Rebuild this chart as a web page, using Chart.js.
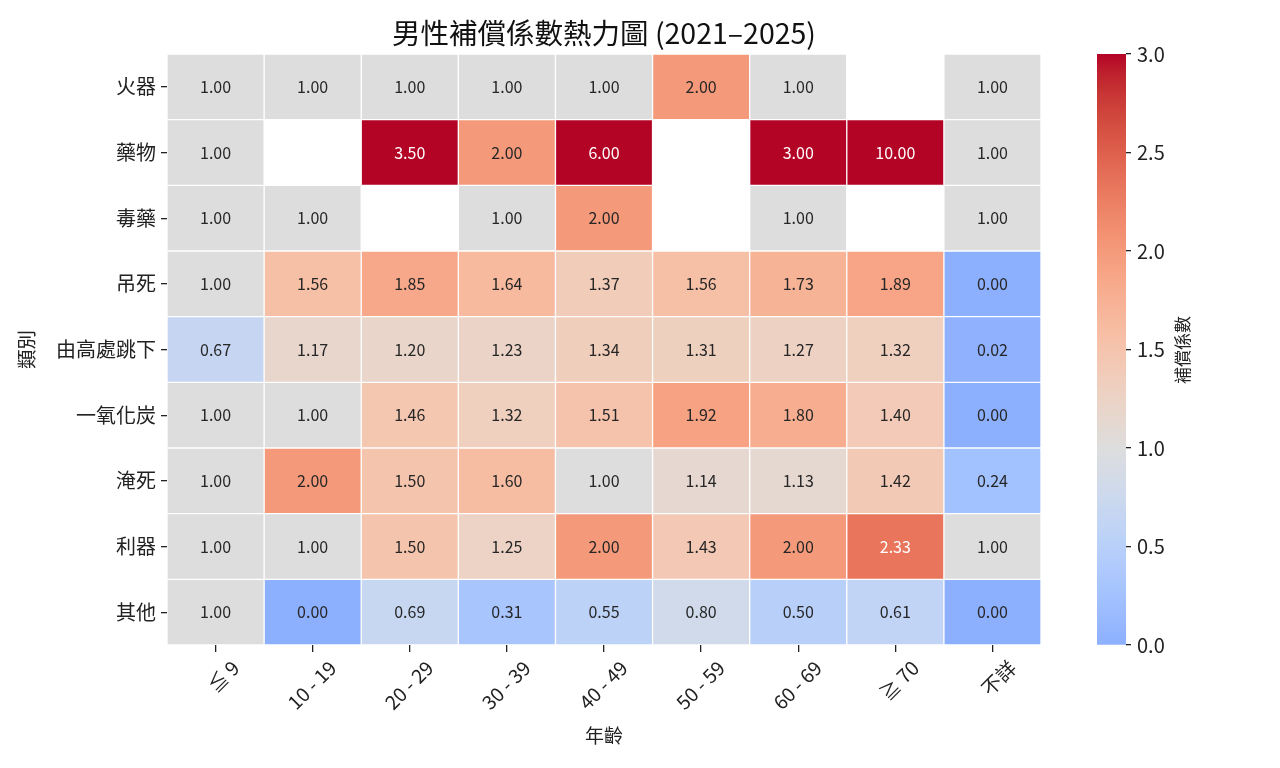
<!DOCTYPE html>
<html>
<head>
<meta charset="utf-8">
<script src="https://cdn.jsdelivr.net/npm/chart.js@4"></script>
<style>
  html, body { margin: 0; padding: 0; background: #fff; }
  #main { position: absolute; left: 0; top: 0; width: 1060px; height: 768px; }
  #bar { position: absolute; left: 1060px; top: 0; width: 220px; height: 768px; }
</style>
</head>
<body>
<div id="main"><canvas id="heatmap"></canvas></div>
<div id="bar"><canvas id="colorbar"></canvas></div>
<script>
const ages = ["≦ 9", "10 - 19", "20 - 29", "30 - 39", "40 - 49", "50 - 59", "60 - 69", "≧ 70", "不詳"];
const categories = ["火器", "藥物", "毒藥", "吊死", "由高處跳下", "一氧化炭", "淹死", "利器", "其他"];

// one row per category, one value per age group (null = no data)
const firearm  = [1.00, 1.00, 1.00, 1.00, 1.00, 2.00, 1.00, null, 1.00];
const drugs    = [1.00, null, 3.50, 2.00, 6.00, null, 3.00, 10.00, 1.00];
const poison   = [1.00, 1.00, null, 1.00, 2.00, null, 1.00, null, 1.00];
const hanging  = [1.00, 1.56, 1.85, 1.64, 1.37, 1.56, 1.73, 1.89, 0.00];
const jumping  = [0.67, 1.17, 1.20, 1.23, 1.34, 1.31, 1.27, 1.32, 0.02];
const charcoal = [1.00, 1.00, 1.46, 1.32, 1.51, 1.92, 1.80, 1.40, 0.00];
const drowning = [1.00, 2.00, 1.50, 1.60, 1.00, 1.14, 1.13, 1.42, 0.24];
const sharp    = [1.00, 1.00, 1.50, 1.25, 2.00, 1.43, 2.00, 2.33, 1.00];
const other    = [1.00, 0.00, 0.69, 0.31, 0.55, 0.80, 0.50, 0.61, 0.00];
const values = [firearm, drugs, poison, hanging, jumping, charcoal, drowning, sharp, other];

const colorbarTicks = [0, 0.5, 1, 1.5, 2, 2.5, 3];

const FONT = "'Noto Sans CJK TC', 'Noto Sans', sans-serif";
const VMIN = 0, VMAX = 3, CENTER = 1;
const TICK = "#222";

// coolwarm colormap samples
const coolwarm = [
  [59,76,192],[68,90,204],[77,104,215],[87,117,225],[98,130,234],[108,142,241],
  [119,154,247],[130,165,251],[141,176,254],[152,185,255],[163,194,255],[174,201,253],
  [184,208,249],[194,213,244],[204,217,238],[213,219,230],[221,221,221],[229,216,209],
  [236,211,197],[241,204,185],[245,196,173],[247,187,160],[247,177,148],[247,166,135],
  [244,154,123],[241,141,111],[236,127,99],[229,112,88],[222,96,77],[213,80,66],
  [203,62,56],[192,40,47],[180,4,38]
];

function cmap(t) {
  t = Math.max(0, Math.min(1, t));
  const p = t * (coolwarm.length - 1);
  const i = Math.min(Math.floor(p), coolwarm.length - 2);
  const f = p - i;
  const a = coolwarm[i], b = coolwarm[i + 1];
  return a.map((c, k) => Math.round(c + (b[k] - c) * f));
}

// centered norm like seaborn's center=1
function valueToRGB(v) {
  const vrange = Math.max(VMAX - CENTER, CENTER - VMIN);
  const lo = CENTER - vrange, hi = CENTER + vrange;
  const cmin = (VMIN - lo) / (hi - lo), cmax = (VMAX - lo) / (hi - lo);
  const n = Math.max(0, Math.min(1, (v - VMIN) / (VMAX - VMIN)));
  return cmap(cmin + n * (cmax - cmin));
}

function rgbStr(c) { return "rgb(" + c[0] + "," + c[1] + "," + c[2] + ")"; }

function luminance(c) {
  const lin = c.map(x => {
    x = x / 255;
    return x <= 0.03928 ? x / 12.92 : Math.pow((x + 0.055) / 1.055, 2.4);
  });
  return 0.2126 * lin[0] + 0.7152 * lin[1] + 0.0722 * lin[2];
}

const datasets = ages.map((age, j) => ({
  label: age,
  data: categories.map((c, i) => values[i][j] == null ? null : [j, j + 1]),
  backgroundColor: ctx => {
    const v = values[ctx.dataIndex][j];
    return v == null ? "rgba(0,0,0,0)" : rgbStr(valueToRGB(v));
  },
  borderColor: "#ffffff",
  borderWidth: 1,
  borderSkipped: false,
  barPercentage: 1,
  categoryPercentage: 1,
  grouped: false,
}));

const cellLabels = {
  id: "cellLabels",
  afterDatasetsDraw(chart) {
    const ctx = chart.ctx;
    ctx.save();
    ctx.font = "16px " + FONT;
    ctx.textAlign = "center";
    ctx.textBaseline = "middle";
    chart.data.datasets.forEach((ds, j) => {
      const meta = chart.getDatasetMeta(j);
      meta.data.forEach((el, i) => {
        const v = values[i][j];
        if (v == null) return;
        const pt = el.getCenterPoint();
        ctx.fillStyle = luminance(valueToRGB(v)) > 0.408 ? "#262626" : "#ffffff";
        ctx.fillText(v.toFixed(2), pt.x, pt.y);
      });
    });
    ctx.restore();
  },
};

// title centred over the heatmap cells
const heatTitle = {
  id: "heatTitle",
  afterDraw(chart) {
    const ctx = chart.ctx;
    const area = chart.chartArea;
    ctx.save();
    ctx.font = "28.5px " + FONT;
    ctx.fillStyle = "#111";
    ctx.textAlign = "center";
    ctx.textBaseline = "middle";
    ctx.fillText("男性補償係數熱力圖 (2021–2025)", (area.left + area.right) / 2, 33);
    ctx.restore();
  },
};

new Chart(document.getElementById("heatmap").getContext("2d"), {
  type: "bar",
  data: { labels: categories, datasets: datasets },
  options: {
    indexAxis: "y",
    responsive: true,
    maintainAspectRatio: false,
    animation: false,
    events: [],
    layout: { padding: { left: 0, right: 19, top: 54, bottom: 0 } },
    plugins: {
      legend: { display: false },
      tooltip: { enabled: false },
      title: { display: false },
    },
    scales: {
      x: {
        type: "linear",
        min: 0,
        max: ages.length,
        afterBuildTicks: scale => {
          scale.ticks = ages.map((a, i) => ({ value: i + 0.5 }));
        },
        afterFit: scale => { scale.height = 123; },
        border: { display: false },
        grid: {
          drawOnChartArea: false, drawTicks: true, tickLength: 7,
          color: TICK, tickColor: TICK, tickWidth: 1.3, lineWidth: 1.3,
        },
        ticks: {
          autoSkip: false,
          minRotation: 45,
          maxRotation: 45,
          labelOffset: 20,
          padding: 4,
          color: "#222",
          font: { family: FONT, size: 19.5 },
          callback: (v, i) => ages[i],
        },
        title: {
          display: true,
          text: "年齡",
          color: "#222",
          font: { family: FONT, size: 19 },
          padding: { top: 0, bottom: 21 },
        },
      },
      y: {
        type: "category",
        offset: true,
        afterFit: scale => { scale.width = 167; },
        border: { display: false },
        grid: {
          offset: false, drawOnChartArea: false, drawTicks: true, tickLength: 6,
          color: TICK, tickColor: TICK, tickWidth: 1.3, lineWidth: 1.3,
        },
        ticks: {
          padding: 5,
          color: "#222",
          font: { family: FONT, size: 20 },
        },
        title: {
          display: true,
          text: "類別",
          color: "#222",
          font: { family: FONT, size: 19.5 },
          padding: { top: 15, bottom: 0 },
        },
      },
    },
  },
  plugins: [cellLabels, heatTitle],
});

// colorbar
const barTitle = {
  id: "barTitle",
  afterDraw(chart) {
    const ctx = chart.ctx;
    ctx.save();
    ctx.translate(123, 350);
    ctx.rotate(-Math.PI / 2);
    ctx.font = "17px " + FONT;
    ctx.fillStyle = "#222";
    ctx.textAlign = "center";
    ctx.textBaseline = "middle";
    ctx.fillText("補償係數", 0, 0);
    ctx.restore();
  },
};

new Chart(document.getElementById("colorbar").getContext("2d"), {
  type: "bar",
  data: {
    labels: [""],
    datasets: [{
      data: [[VMIN, VMAX]],
      backgroundColor: ctx => {
        const area = ctx.chart.chartArea;
        if (!area) return "#ddd";
        const g = ctx.chart.ctx.createLinearGradient(0, area.bottom, 0, area.top);
        for (let k = 0; k <= 30; k++) {
          const t = k / 30;
          g.addColorStop(t, rgbStr(valueToRGB(VMIN + t * (VMAX - VMIN))));
        }
        return g;
      },
      borderWidth: 0,
      barPercentage: 1,
      categoryPercentage: 1,
    }],
  },
  options: {
    responsive: true,
    maintainAspectRatio: false,
    animation: false,
    events: [],
    layout: { padding: { left: 37, right: 0, top: 54, bottom: 123 } },
    plugins: { legend: { display: false }, tooltip: { enabled: false } },
    scales: {
      x: { display: false },
      y: {
        position: "right",
        min: VMIN,
        max: VMAX,
        afterBuildTicks: scale => {
          scale.ticks = colorbarTicks.map(v => ({ value: v }));
        },
        afterFit: scale => { scale.width = 154; },
        border: { display: false },
        grid: {
          drawOnChartArea: false, drawTicks: true, tickLength: 5,
          color: TICK, tickColor: TICK, tickWidth: 1.3, lineWidth: 1.3,
        },
        ticks: {
          padding: 6,
          color: "#222",
          font: { family: FONT, size: 20 },
          callback: v => v.toFixed(1),
        },
      },
    },
  },
  plugins: [barTitle],
});
</script>
</body>
</html>
